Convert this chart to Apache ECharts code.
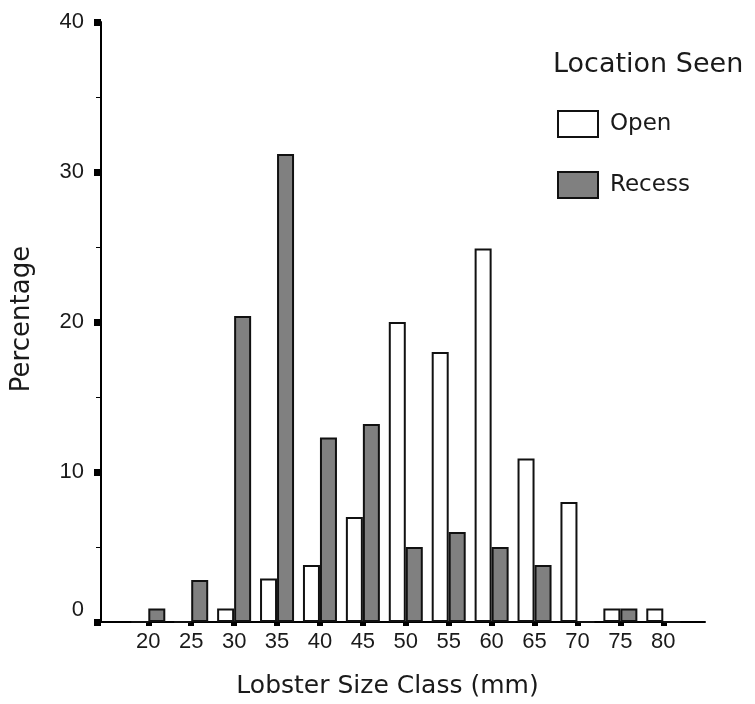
<!DOCTYPE html>
<html>
<head>
<meta charset="utf-8">
<script src="https://cdn.jsdelivr.net/npm/echarts@6/dist/echarts.min.js"></script>
<style>html,body{margin:0;padding:0;background:#fff}#c{width:755px;height:704px}</style>
</head>
<body>
<div id="c"></div>
<script>
var sizeClasses = [20, 25, 30, 35, 40, 45, 50, 55, 60, 65, 70, 75, 80];
var openValues = [0, 0, 0.9, 2.9, 3.8, 7.0, 20.0, 18.0, 24.9, 10.9, 8.0, 0.9, 0.9];
var recessValues = [0.9, 2.8, 20.4, 31.2, 12.3, 13.2, 5.0, 6.0, 5.0, 3.8, 0, 0.9, 0];
var yTicks = [0, 10, 20, 30, 40];

var chart = echarts.init(document.getElementById('c'), null, {renderer: 'canvas'});
var textFont = 'DejaVu Sans';
var numFont = 'Liberation Sans';
var ink = '#1a1a1a';

function pairs(vals) {
  return sizeClasses.map(function (x, i) { return [x, vals[i]]; });
}

chart.setOption({
  animation: false,
  backgroundColor: '#fff',
  title: {
    text: 'Location Seen',
    left: 553,
    top: 51,
    padding: 0,
    textStyle: {fontFamily: textFont, fontSize: 27, fontWeight: 'normal', color: ink}
  },
  legend: {
    orient: 'vertical',
    left: 557,
    top: 110,
    padding: 0,
    itemWidth: 40,
    itemHeight: 26,
    itemGap: 33,
    icon: 'rect',
    textStyle: {fontFamily: textFont, fontSize: 23, color: ink, padding: [0, 0, 0, 7]},
    data: ['Open', 'Recess']
  },
  grid: {left: 101, right: 50, top: 22, bottom: 80, containLabel: false},
  xAxis: {
    type: 'value',
    min: 14.49,
    max: 84.86,
    name: 'Lobster Size Class (mm)',
    nameLocation: 'middle',
    nameGap: 52,
    nameTextStyle: {fontFamily: textFont, fontSize: 25, color: ink, padding: [0, 31, 0, 0]},
    axisLine: {show: true, onZero: false, lineStyle: {color: '#000', width: 2}},
    axisTick: {show: true, customValues: sizeClasses, length: 4, inside: false, lineStyle: {color: '#000', width: 6}},
    axisLabel: {customValues: sizeClasses, margin: 9, fontFamily: numFont, fontSize: 22, color: ink},
    splitLine: {show: false}
  },
  yAxis: {
    type: 'value',
    min: 0,
    max: 40,
    interval: 10,
    name: 'Percentage',
    nameLocation: 'middle',
    nameRotate: 90,
    nameGap: 66,
    nameTextStyle: {fontFamily: textFont, fontSize: 26, color: ink, padding: [0, 0, 0, 6]},
    axisLine: {show: true, lineStyle: {color: '#000', width: 2}},
    axisTick: {show: true, length: 7, lineStyle: {color: '#000', width: 7}},
    minorTick: {show: true, splitNumber: 2, length: 5, lineStyle: {color: '#000', width: 1}},
    axisLabel: {
      margin: 17,
      fontFamily: numFont,
      fontSize: 22,
      color: ink,
      formatter: function (v) { return v === 0 ? '{z|0}' : String(v); },
      rich: {z: {fontFamily: numFont, fontSize: 22, color: ink, padding: [0, 0, 24, 0]}}
    },
    splitLine: {show: false}
  },
  series: [
    {
      name: 'Open',
      type: 'bar',
      barWidth: 17,
      barGap: '0%',
      data: pairs(openValues),
      itemStyle: {color: '#ffffff', borderColor: '#111', borderWidth: 2}
    },
    {
      name: 'Recess',
      type: 'bar',
      barWidth: 17,
      barGap: '0%',
      data: pairs(recessValues),
      itemStyle: {color: '#808080', borderColor: '#111', borderWidth: 2}
    }
  ]
});
</script>
</body>
</html>
